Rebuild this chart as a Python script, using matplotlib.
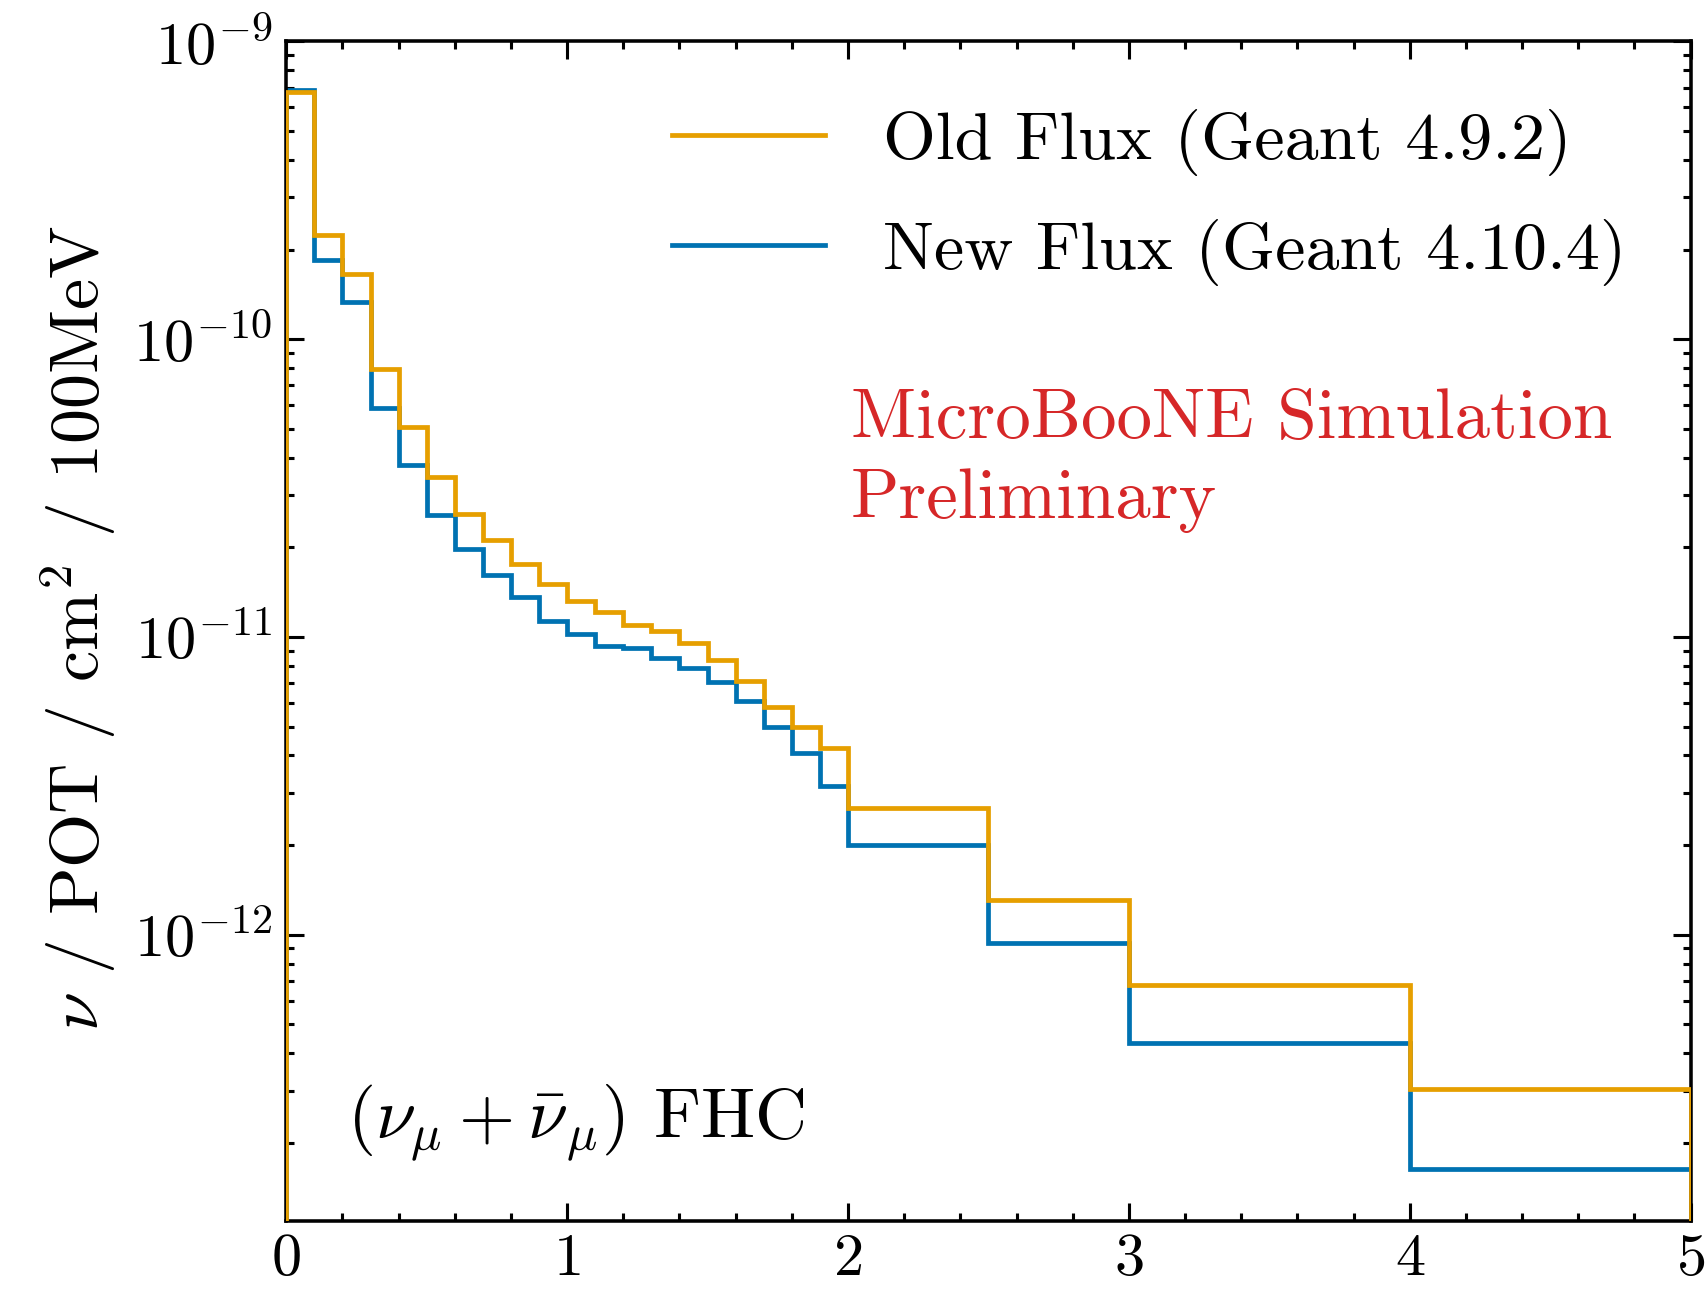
import numpy as np
import matplotlib
matplotlib.use("Agg")
import matplotlib.pyplot as plt
from matplotlib.ticker import MultipleLocator, LogLocator, NullFormatter

plt.rcParams["font.family"] = ["cmr10", "DejaVu Serif"]
plt.rcParams["mathtext.fontset"] = "cm"
plt.rcParams["axes.formatter.use_mathtext"] = True

# ---------- FLUX HISTOGRAMS (nu / POT / cm^2 / 100 MeV) ----------
edges = [0.0, 0.1, 0.2, 0.3, 0.4, 0.5, 0.6, 0.7, 0.8, 0.9, 1.0,
         1.1, 1.2, 1.3, 1.4, 1.5, 1.6, 1.7, 1.8, 1.9, 2.0,
         2.5, 3.0, 4.0, 5.0]

old_flux = [6.74e-10, 2.23e-10, 1.65e-10, 7.95e-11, 5.07e-11, 3.44e-11,
            2.59e-11, 2.11e-11, 1.76e-11, 1.51e-11, 1.32e-11, 1.21e-11,
            1.10e-11, 1.05e-11, 9.55e-12, 8.38e-12, 7.10e-12, 5.80e-12,
            4.98e-12, 4.25e-12, 2.66e-12, 1.31e-12, 6.76e-13, 3.03e-13]

new_flux = [6.84e-10, 1.85e-10, 1.33e-10, 5.86e-11, 3.79e-11, 2.56e-11,
            1.98e-11, 1.61e-11, 1.36e-11, 1.13e-11, 1.02e-11, 9.31e-12,
            9.17e-12, 8.51e-12, 7.87e-12, 7.05e-12, 6.11e-12, 5.00e-12,
            4.07e-12, 3.16e-12, 2.00e-12, 9.35e-13, 4.34e-13, 1.64e-13]

labels = ["Old Flux (Geant 4.9.2)", "New Flux (Geant 4.10.4)"]
colors = ["#E69F00", "#0072B2"]

fig = plt.figure(figsize=(10, 1289 / 170.7), dpi=170.7)
ax = fig.add_axes([0.1677, 0.0524, 0.8227, 0.9155])

ax.stairs(new_flux, edges, baseline=1e-14, color=colors[1], lw=2.0,
          label=labels[1], zorder=2)
ax.stairs(old_flux, edges, baseline=1e-14, color=colors[0], lw=2.0,
          label=labels[0], zorder=3)

ax.set_yscale("log")
ax.set_xlim(0, 5)
ax.set_ylim(1.09e-13, 1e-9)

ax.xaxis.set_major_locator(MultipleLocator(1))
ax.xaxis.set_minor_locator(MultipleLocator(0.2))
ax.yaxis.set_major_locator(LogLocator(base=10, numticks=10))
ax.yaxis.set_minor_locator(LogLocator(base=10, subs=np.arange(2, 10), numticks=20))
ax.yaxis.set_minor_formatter(NullFormatter())

ax.tick_params(which="both", direction="in", top=True, right=True,
               labelsize=25.5, width=1.3)
ax.tick_params(which="major", length=7.5)
ax.tick_params(which="minor", length=3.5)
ax.tick_params(axis="x", which="major", pad=5)
ax.tick_params(axis="y", which="major", pad=6)
for s in ax.spines.values():
    s.set_linewidth(1.5)

ax.set_ylabel(r"$\nu$ / POT / cm$^2$ / 100MeV", fontsize=29.5)
ax.yaxis.set_label_coords(-0.12, 0.503)

# legend with old flux first
h, l = ax.get_legend_handles_labels()
ax.legend(h[::-1], l[::-1], loc="upper left", bbox_to_anchor=(0.2744, 0.9425),
          frameon=False, fontsize=28.7, handlelength=2.25, handletextpad=0.86,
          labelspacing=0.63, borderpad=0, borderaxespad=0)

ax.text(0.402, 0.7065, "MicroBooNE Simulation\nPreliminary",
        transform=ax.transAxes, color="#D62728", fontsize=30,
        ha="left", va="top", linespacing=1.34)
ax.text(0.043, 0.071, r"$(\nu_\mu + \bar{\nu}_\mu)$ FHC",
        transform=ax.transAxes, fontsize=30.5, ha="left", va="baseline")

fig.savefig("out.png", dpi=170.7)
